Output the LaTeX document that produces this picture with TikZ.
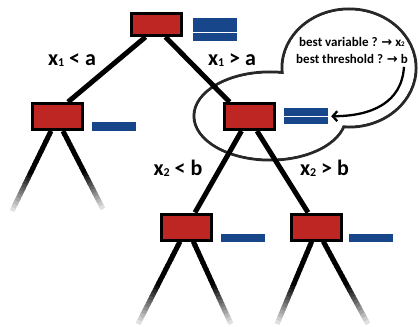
\documentclass[tikz,border=0pt]{standalone}
\usepackage{fontspec}
\setmainfont{Carlito}
\newfontfamily\arrfont{DejaVu Sans}
\usetikzlibrary{calc,arrows.meta}
\pgfdeclarelayer{bubblelayer}
\pgfdeclarelayer{edgelayer}
\pgfsetlayers{bubblelayer,edgelayer,main}
\definecolor{boxred}{RGB}{190,38,36}
\definecolor{barblue}{RGB}{23,71,138}
\definecolor{bubblegray}{RGB}{40,40,40}
\newcommand\lsub[1]{\raisebox{-1pt}{\fontsize{12}{12}\selectfont #1}}
\newcommand\bsub[1]{\raisebox{-0.5pt}{\fontsize{7}{7}\selectfont #1}}
\newcommand\fadeline[2]{%
  \foreach \i in {0,...,23}{%
    \pgfmathsetmacro\ta{\i/24}%
    \pgfmathsetmacro\tb{min((\i+1.3)/24,1)}%
    \pgfmathsetmacro\cc{\ta<0.5 ? 100 : 100-(\ta-0.5)/0.5*96}%
    \draw[line width=5pt, draw=black!\cc!white] ($(#1)!\ta!(#2)$) -- ($(#1)!\tb!(#2)$);
  }}
\begin{document}
\begin{tikzpicture}[x=1pt,y=-1pt,
  redbox/.style={draw=black, line width=3pt, fill=boxred, minimum width=50pt, minimum height=26pt, inner sep=0pt},
  bluebar/.style={fill=barblue, inner sep=0pt, minimum width=44pt},
  edge/.style={line width=5pt, draw=black},
  bubble/.style={draw=bubblegray, line width=3pt},
  lbl/.style={font=\fontsize{22}{24}\selectfont\bfseries, anchor=base, inner sep=0pt},
  btxt/.style={font=\fontsize{13}{15}\selectfont\bfseries, inner sep=0pt},
  arrowline/.style={line width=2.3pt, draw=black, -{Straight Barb[length=4.5pt,width=10pt]}}
]
\useasboundingbox (0,0) rectangle (419,326);

% speech bubble
\begin{pgfonlayer}{bubblelayer}
\draw[bubble] (270,116) ellipse [x radius=76, y radius=44];
\draw[bubble] (349,68) ellipse [x radius=67, y radius=59];
\fill[white] (270,116) ellipse [x radius=74.5, y radius=42.5];
\fill[white] (349,68) ellipse [x radius=65.5, y radius=57.5];
\end{pgfonlayer}

% boxes
\node[redbox, minimum height=22pt] (root) at (156.5,24.5) {};
\node[redbox] (L) at (57,116.5) {};
\node[redbox] (M) at (249.5,116.5) {};
\node[redbox] (LL) at (186.5,227) {};
\node[redbox] (LR) at (316.5,227) {};

% bars
\node[bluebar, minimum height=22.4pt] (rbar) at (215,29.5) {};
\draw[white, line width=1.4pt] ($(rbar.west)+(0,3)$) -- ($(rbar.east)+(0,3)$);
\node[bluebar, minimum height=15.7pt] (Mbar) at (306,116.2) {};
\draw[white, line width=1.4pt] (Mbar.west) -- (Mbar.east);
\node[bluebar, minimum height=9pt] (Lbar) at (113.5,126.5) {};
\node[bluebar, minimum height=8pt] (LLbar) at (242.5,238) {};
\node[bluebar, minimum height=8pt] (LRbar) at (370.5,238) {};

% edges
\begin{pgfonlayer}{edgelayer}
\draw[edge] ($(root.south)+(-11,0)$) -- ($(L.north)+(11,0)$);
\draw[edge] ($(root.south)+(9,0)$) -- ($(M.north)+(-20,0)$);
\draw[edge] ($(M.south)+(-8,0)$) -- ($(LL.north)+(8.5,0)$);
\draw[edge] ($(M.south)+(7.5,0)$) -- ($(LR.north)+(-8.5,0)$);
\coordinate (La) at ($(L.south)+(-6,0)$);
\coordinate (Lae) at (12,211);
\coordinate (Lb) at ($(L.south)+(6,0)$);
\coordinate (Lbe) at (103,209);
\coordinate (LLa) at ($(LL.south)+(-6.5,0)$);
\coordinate (LLae) at (138,324);
\coordinate (LLb) at ($(LL.south)+(6.8,0)$);
\coordinate (LLbe) at (231,324);
\coordinate (LRa) at ($(LR.south)+(-4.8,0)$);
\coordinate (LRae) at (277,324);
\coordinate (LRb) at ($(LR.south)+(6.8,0)$);
\coordinate (LRbe) at (368,324);
\fadeline{La}{Lae}
\fadeline{Lb}{Lbe}
\fadeline{LLa}{LLae}
\fadeline{LLb}{LLbe}
\fadeline{LRa}{LRae}
\fadeline{LRb}{LRbe}
\end{pgfonlayer}

% edge labels
\node[lbl] (l1) at (72,66) {x\lsub{1} < a};
\node[lbl] (l2) at (232,66) {x\lsub{1} > a};
\node[lbl] (l3) at (178,175) {x\lsub{2} < b};
\node[lbl] (l4) at (324.5,175) {x\lsub{2} > b};

% bubble text
\node[btxt] (t1) at (352,42) {best variable ? {\arrfont →} x\bsub{2}};
\node[btxt] (t2) at (352,59) {best threshold ? {\arrfont →} b};
\draw[arrowline] ($(t2.south east)+(-4,3)$) .. controls +(-2,36) and +(40,0) .. ($(Mbar.east)+(3,0)$);
\end{tikzpicture}
\end{document}
